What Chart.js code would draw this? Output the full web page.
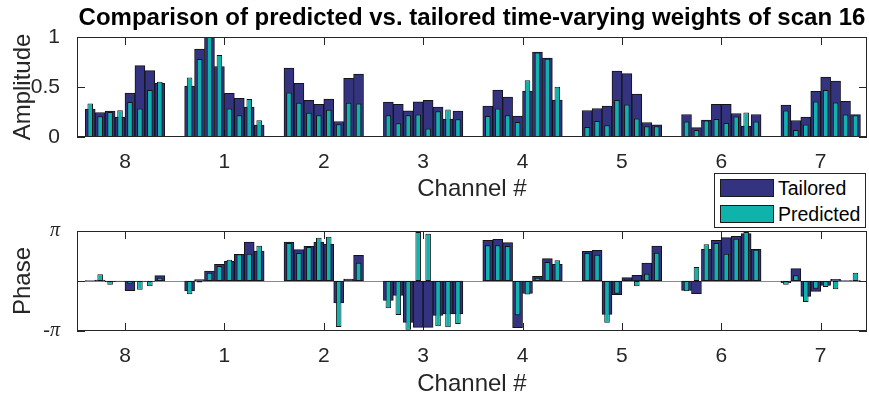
<!DOCTYPE html>
<html>
<head>
<meta charset="utf-8">
<script src="https://cdn.jsdelivr.net/npm/chart.js@4.4.0/dist/chart.umd.min.js"></script>
<style>
  body { margin: 0; background: #fff; }
  #wrap { position: relative; width: 869px; height: 401px; font-family: "Liberation Sans", Arial, sans-serif; }
  #wrap canvas { position: absolute; left: 0; }
  #legend { position: absolute; left: 714px; top: 173px; width: 150px; height: 53px; border: 1px solid #262626; background: #fff; }
  .item { position: absolute; left: 5px; height: 18px; font-size: 19.5px; line-height: 18px; color: #000; }
  .sw { display: inline-block; width: 52px; height: 16px; border: 1px solid #1a1a1a; vertical-align: top; margin-right: 4px; }
</style>
</head>
<body>
<div id="wrap">
  <canvas id="amp" width="869" height="205" style="top:0"></canvas>
  <canvas id="phase" width="869" height="196" style="top:205px"></canvas>
  <div id="legend">
    <div class="item" style="top:5px"><span class="sw" id="sw0"></span>Tailored</div>
    <div class="item" style="top:31px"><span class="sw" id="sw1"></span>Predicted</div>
  </div>
</div>
<script>
// channel order along the x axis
const channels = ["8", "1", "2", "3", "4", "5", "6", "7"];

// amplitude, 8 weights per channel
const ampTailored = [
  0.28, 0.245, 0.258, 0.20, 0.44, 0.714, 0.664, 0.537,
  0.51, 0.88, 1.0, 0.705, 0.436, 0.386, 0.30, 0.118,
  0.688, 0.537, 0.366, 0.326, 0.379, 0.155, 0.587, 0.63,
  0.349, 0.326, 0.262, 0.352, 0.366, 0.30, 0.18, 0.258,
  0.309, 0.47, 0.40, 0.208, 0.46, 0.849, 0.789, 0.369,
  0.265, 0.285, 0.309, 0.66, 0.634, 0.43, 0.145, 0.121,
  0.225, 0.094, 0.168, 0.326, 0.326, 0.235, 0.108, 0.225,
  0.319, 0.165, 0.198, 0.456, 0.60, 0.56, 0.356, 0.225
];
const ampPredicted = [
  0.336, 0.208, 0.25, 0.268, 0.35, 0.285, 0.47, 0.553,
  0.594, 0.78, 1.0, 0.82, 0.285, 0.218, 0.38, 0.168,
  0.446, 0.342, 0.242, 0.218, 0.272, 0.128, 0.342, 0.336,
  0.218, 0.138, 0.218, 0.225, 0.084, 0.258, 0.275, 0.178,
  0.211, 0.285, 0.218, 0.151, 0.567, 0.845, 0.782, 0.503,
  0.10, 0.161, 0.118, 0.369, 0.326, 0.185, 0.108, 0.108,
  0.155, 0.07, 0.165, 0.181, 0.141, 0.205, 0.245, 0.155,
  0.265, 0.07, 0.124, 0.356, 0.47, 0.346, 0.225, 0.218
];

// phase, in multiples of pi
const phaseTailored = [
  0.01, 0.02, -0.02, -0.01, -0.193, -0.01, -0.01, 0.107,
  -0.2, 0.03, 0.2, 0.334, 0.394, 0.534, 0.78, 0.6,
  0.78, 0.627, 0.694, 0.78, 0.734, -0.44, 0.04, 0.514,
  -0.39, -0.29, -0.826, -0.926, -0.926, -0.69, -0.66, -0.66,
  0.814, 0.834, 0.767, -0.933, -0.25, 0.094, 0.447, 0.334,
  0.594, 0.614, -0.666, -0.273, 0.067, 0.114, 0.36, 0.7,
  -0.186, -0.253, 0.634, 0.814, 0.867, 0.894, 0.947, 0.634,
  -0.033, 0.247, -0.306, -0.206, -0.086, 0.034, 0.01, 0.01
];
const phasePredicted = [
  0.0, 0.134, -0.073, -0.005, -0.053, -0.173, -0.107, 0.067,
  -0.267, -0.03, 0.167, 0.3, 0.427, 0.534, 0.547, 0.707,
  0.76, 0.56, 0.68, 0.867, 0.887, -0.92, 0.01, 0.367,
  -0.546, -0.68, -0.973, 0.98, 0.947, -0.906, -0.926, -0.86,
  0.714, 0.714, 0.7, -0.686, -0.27, 0.067, 0.38, 0.414,
  0.56, 0.527, -0.833, -0.253, 0.047, -0.107, 0.147, 0.567,
  -0.206, 0.28, 0.734, 0.76, 0.547, 0.847, 0.98, 0.627,
  -0.073, 0.114, -0.42, -0.153, -0.12, -0.166, 0.005, 0.167
];

const ampTicks = [0, 0.5, 1];
const phaseTicks = [-1, 0, 1];
const phaseLabels = ["-\u03c0", "", "\u03c0"];

const perChannel = 8;
const gap = 2;
const colTailored = "#333380";
const colPredicted = "#10b3ab";
const FONT = "'Liberation Sans', Arial, sans-serif";

document.getElementById("sw0").style.background = colTailored;
document.getElementById("sw1").style.background = colPredicted;

// weight index -> position on the x axis (channels separated by a gap)
function toPoints(values) {
  return values.map((v, i) => {
    const ch = Math.floor(i / perChannel);
    return { x: ch * (perChannel + gap) + (i % perChannel) + 1, y: v };
  });
}
const channelCenters = channels.map((c, i) => i * (perChannel + gap) + (perChannel + 1) / 2);

// box around the axes plus inward tick marks, like the original figure
const boxPlugin = {
  id: "box",
  beforeDatasetsDraw(chart, args, opts) {
    const { ctx, chartArea: a, scales: { x, y } } = chart;
    ctx.save();
    ctx.lineWidth = 1;
    if (opts.zeroLine) {
      const py = Math.round(y.getPixelForValue(0)) + 0.5;
      ctx.strokeStyle = "#8a8a8a";
      ctx.beginPath(); ctx.moveTo(a.left, py); ctx.lineTo(a.right, py); ctx.stroke();
    }
    ctx.strokeStyle = "#262626";
    ctx.beginPath();
    x.ticks.forEach(t => {
      const px = Math.round(x.getPixelForValue(t.value)) + 0.5;
      ctx.moveTo(px, a.top); ctx.lineTo(px, a.top + 8);
      ctx.moveTo(px, a.bottom); ctx.lineTo(px, a.bottom - 8);
    });
    y.ticks.forEach(t => {
      const py = Math.round(y.getPixelForValue(t.value)) + 0.5;
      ctx.moveTo(a.left, py); ctx.lineTo(a.left + 8, py);
      ctx.moveTo(a.right, py); ctx.lineTo(a.right - 8, py);
    });
    ctx.stroke();
    ctx.restore();
  },
  afterDraw(chart) {
    const { ctx, chartArea: a } = chart;
    ctx.save();
    ctx.strokeStyle = "#262626";
    ctx.lineWidth = 1;
    ctx.strokeRect(Math.round(a.left) + 0.5, Math.round(a.top) + 0.5, Math.round(a.width) - 1, Math.round(a.height) - 1);
    ctx.restore();
  }
};

function makeChart(id, tailored, predicted, yOpts, xHeight, xTitlePad, topPad, title, zeroLine) {
  return new Chart(document.getElementById(id), {
    type: "bar",
    data: {
      datasets: [
        {
          label: "Tailored",
          data: toPoints(tailored),
          backgroundColor: colTailored,
          borderColor: "#141414",
          borderWidth: 1,
          borderSkipped: false,
          grouped: false,
          categoryPercentage: 1,
          barPercentage: 1,
          order: 2
        },
        {
          label: "Predicted",
          data: toPoints(predicted),
          backgroundColor: colPredicted,
          borderColor: "#141414",
          borderWidth: 1,
          borderSkipped: false,
          grouped: false,
          categoryPercentage: 1,
          barPercentage: 0.56,
          order: 1
        }
      ]
    },
    options: {
      responsive: false,
      animation: false,
      devicePixelRatio: 1,
      layout: { padding: { left: 0, right: 2, top: topPad, bottom: 0 } },
      plugins: {
        legend: { display: false },
        tooltip: { enabled: false },
        title: title ? {
          display: true,
          text: title,
          fullSize: false,
          color: "#000",
          font: { family: FONT, size: 24, weight: "bold" },
          padding: { top: 4, bottom: 4.2 }
        } : { display: false },
        box: { zeroLine: zeroLine }
      },
      scales: {
        x: {
          type: "linear",
          offset: false,
          min: -0.33,
          max: 79.16,
          grid: { display: false, offset: false },
          border: { display: false },
          afterBuildTicks: s => { s.ticks = channelCenters.map(v => ({ value: v })); },
          afterFit: s => { s.height = xHeight; },
          ticks: {
            autoSkip: false,
            maxRotation: 0,
            padding: 5,
            color: "#262626",
            font: { family: FONT, size: 21 },
            callback: (v, i) => channels[i]
          },
          title: {
            display: true,
            text: "Channel #",
            color: "#262626",
            font: { family: FONT, size: 24 },
            padding: { top: 0, bottom: xTitlePad }
          }
        },
        y: Object.assign({
          grid: { display: false },
          border: { display: false },
          afterFit: s => { s.width = 77; },
          title: {
            display: true,
            text: yOpts.title,
            color: "#262626",
            font: { family: FONT, size: 24 },
            padding: { top: 9, bottom: 0 }
          }
        }, yOpts.scale)
      }
    },
    plugins: [boxPlugin]
  });
}

makeChart("amp", ampTailored, ampPredicted, {
  title: "Amplitude",
  scale: {
    min: 0,
    max: 1,
    afterBuildTicks: s => { s.ticks = ampTicks.map(v => ({ value: v })); },
    ticks: { padding: 9, color: "#262626", font: { family: FONT, size: 21 }, callback: v => String(v) }
  }
}, 68, 1.6, 0, "Comparison of predicted vs. tailored time-varying weights of scan 16", false);

makeChart("phase", phaseTailored, phasePredicted, {
  title: "Phase",
  scale: {
    min: -1,
    max: 1,
    afterBuildTicks: s => { s.ticks = phaseTicks.map(v => ({ value: v })); },
    ticks: {
      padding: 9,
      color: "#262626",
      font: { family: "'Liberation Serif', serif", size: 20, style: "italic" },
      callback: (v, i) => phaseLabels[i]
    }
  }
}, 70, 2.6, 26, null, true);
</script>
</body>
</html>
